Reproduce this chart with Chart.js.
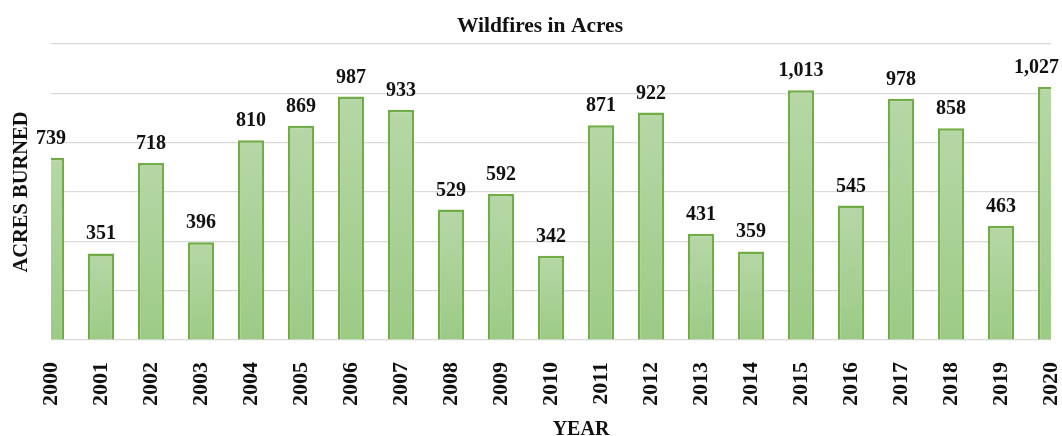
<!DOCTYPE html>
<html>
<head>
<meta charset="utf-8">
<script src="https://cdn.jsdelivr.net/npm/chart.js@4"></script>
<style>
html, body { margin: 0; padding: 0; background: #fff; }
#wrap { width: 1062px; height: 436px; }
</style>
</head>
<body>
<div id="wrap"><canvas id="chart"></canvas></div>
<script>
// data
var years = ['2000', '2001', '2002', '2003', '2004', '2005', '2006', '2007', '2008', '2009', '2010',
	'2011', '2012', '2013', '2014', '2015', '2016', '2017', '2018', '2019', '2020'];
var acres = [739, 351, 718, 396, 810, 869, 987, 933, 529, 592, 342,
	871, 922, 431, 359, 1013, 545, 978, 858, 463, 1027];
var yTicks = [0, 200, 400, 600, 800, 1000, 1200];

var SERIF = '"Liberation Serif", "Times New Roman", serif';

// per bar gradient, light on top
function barFill(ctx) {
	var chart = ctx.chart;
	var y = chart.scales.y;
	if (!chart.chartArea || !y || ctx.raw == null) return '#a9d095';
	var top = y.getPixelForValue(ctx.raw);
	var base = y.getPixelForValue(0);
	var g = chart.ctx.createLinearGradient(0, top, 0, base);
	g.addColorStop(0, '#b6d7a6');
	g.addColorStop(1, '#9ccb86');
	return g;
}

// value labels above the bars, plus chart title and x axis title
var textLayer = {
	id: 'textLayer',
	afterDatasetsDraw: function (chart) {
		var c = chart.ctx;
		var meta = chart.getDatasetMeta(0);
		c.save();
		c.fillStyle = '#111';
		c.textAlign = 'center';
		c.textBaseline = 'alphabetic';

		c.font = 'bold 20px ' + SERIF;
		meta.data.forEach(function (bar, i) {
			var txt = acres[i].toLocaleString('en-US');
			var w = c.measureText(txt).width;
			var x = Math.min(bar.x, chart.width - 3 - w / 2);
			x = Math.max(x, 2 + w / 2);
			c.fillText(txt, x, bar.y - 14);
		});

		c.font = 'bold 21.5px ' + SERIF;
		c.fillText('Wildfires in Acres', 540, 32);

		c.font = 'bold 20px ' + SERIF;
		c.fillText('YEAR', 581, 435);
		c.restore();
	}
};

new Chart(document.getElementById('chart'), {
	type: 'bar',
	data: {
		labels: years,
		datasets: [{
			data: acres,
			backgroundColor: barFill,
			borderColor: '#70ad47',
			borderWidth: 2.5,
			categoryPercentage: 0.52,
			barPercentage: 1
		}]
	},
	options: {
		responsive: true,
		maintainAspectRatio: false,
		animation: false,
		layout: { padding: { left: 0, right: 11, top: 44, bottom: 0 } },
		plugins: {
			legend: { display: false },
			tooltip: { enabled: false },
			title: { display: false }
		},
		scales: {
			x: {
				offset: false,
				grid: { display: false, drawTicks: false },
				border: { display: false },
				ticks: {
					color: '#111',
					font: { family: SERIF, size: 22, weight: 'bold' },
					minRotation: 90,
					maxRotation: 90,
					autoSkip: false,
					padding: 22
				},
				afterFit: function (s) {
					s.height = 96;
					s.paddingLeft = 0;
					s.paddingRight = 0;
				}
			},
			y: {
				min: yTicks[0],
				max: yTicks[yTicks.length - 1],
				afterBuildTicks: function (s) {
					s.ticks = yTicks.map(function (v) { return { value: v }; });
				},
				grid: { color: '#d9d9d9', lineWidth: 1.2, drawTicks: false },
				border: { display: false },
				ticks: { display: false },
				title: {
					display: true,
					text: 'ACRES BURNED',
					color: '#111',
					font: { family: SERIF, size: 20.5, weight: 'bold', lineHeight: 1.2 },
					padding: { top: 9, bottom: 0 }
				},
				afterFit: function (s) { s.width = 51; }
			}
		}
	},
	plugins: [textLayer]
});
</script>
</body>
</html>
